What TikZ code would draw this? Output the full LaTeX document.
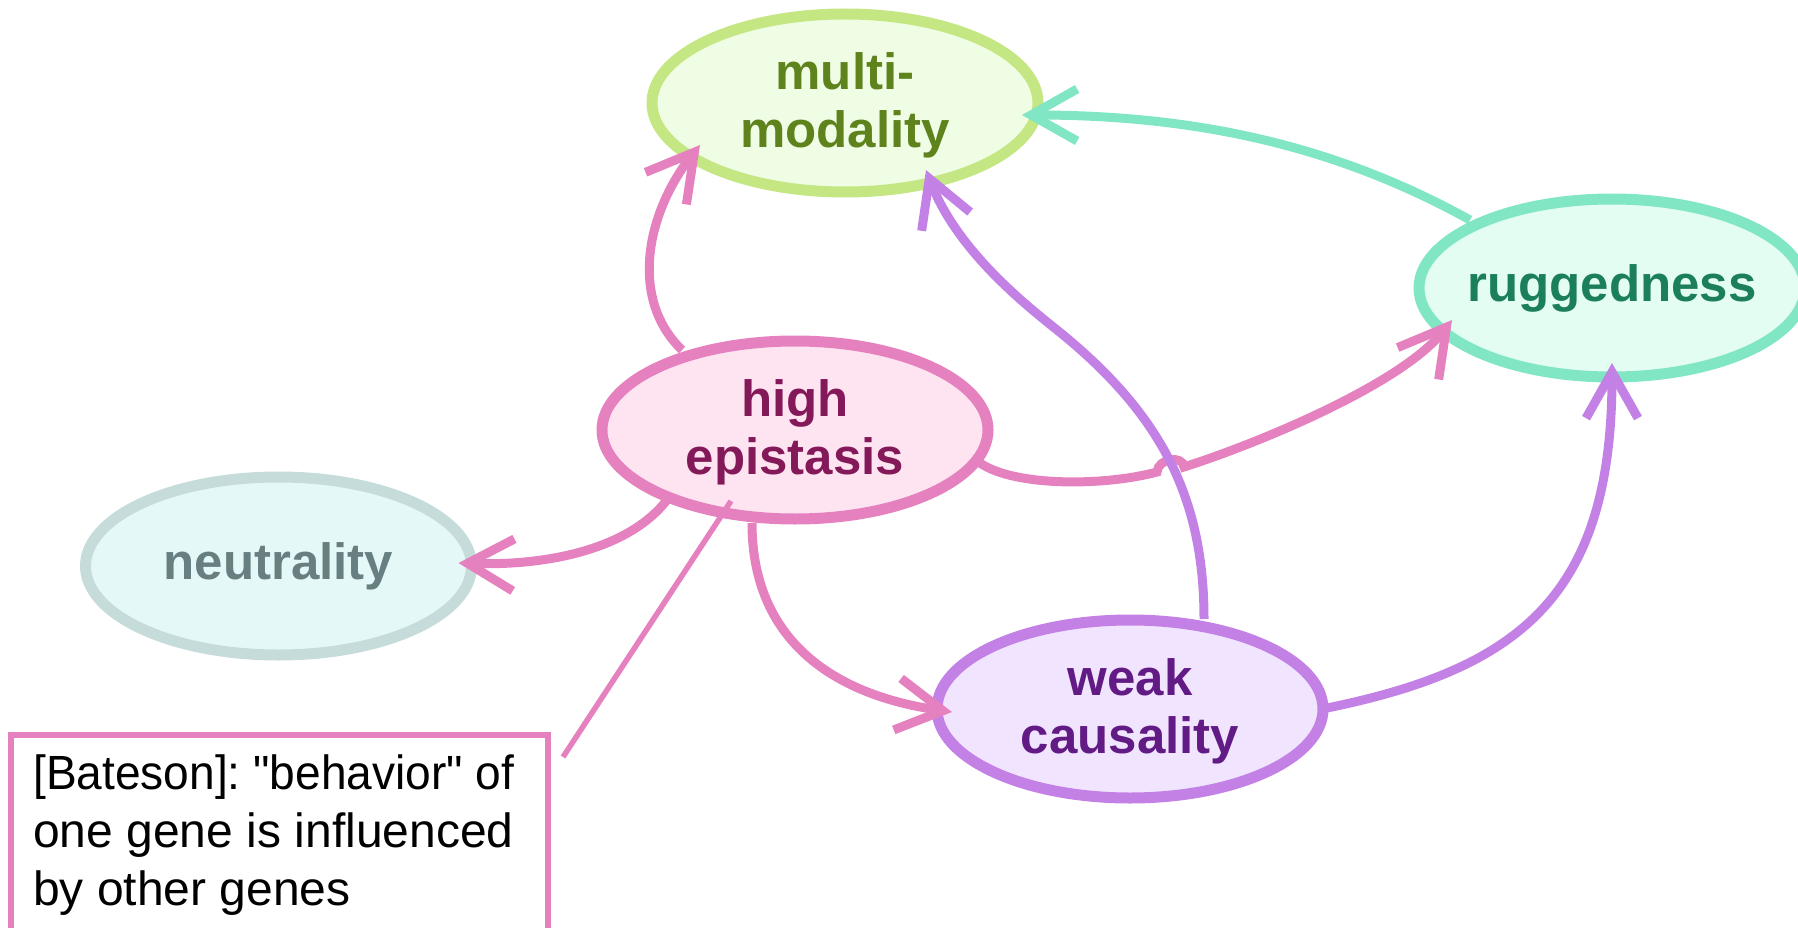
\documentclass[tikz,border=0pt]{standalone}
\usepackage{fontspec}
\setmainfont{Liberation Sans}
% plain family without TeX quote ligatures, so " stays a straight quote
\newfontfamily\plainsans{Liberation Sans}
\usetikzlibrary{arrows.meta,shapes.geometric,calc}

% node palettes: fill, outline, text
\definecolor{mmfill}{HTML}{F0FDE5}
\definecolor{mmline}{HTML}{C4E783}
\definecolor{mmtext}{HTML}{5E821C}
\definecolor{rufill}{HTML}{E4FDF2}
\definecolor{ruline}{HTML}{81E6C3}
\definecolor{rutext}{HTML}{1B7F5B}
\definecolor{hefill}{HTML}{FEE4F1}
\definecolor{heline}{HTML}{E681C0}
\definecolor{hetext}{HTML}{84195A}
\definecolor{nefill}{HTML}{E4F8F8}
\definecolor{neline}{HTML}{C6DCDB}
\definecolor{netext}{HTML}{677F80}
\definecolor{wcfill}{HTML}{F1E4FE}
\definecolor{wcline}{HTML}{C381E6}
\definecolor{wctext}{HTML}{621A84}

\begin{document}
\begin{tikzpicture}[x=1pt,y=-1pt,
  topic/.style={ellipse, draw=#1line, fill=#1fill, line width=11pt,
    minimum width=386pt, minimum height=178pt, inner sep=0pt, outer sep=0pt},
  topictext/.style={text=#1text, font=\fontsize{51}{58}\selectfont\bfseries,
    align=center, inner sep=0pt},
  link/.style={draw=#1, line width=9pt,
    -{Straight Barb[length=46pt,width=52pt]}},
  notebox/.style={draw=heline, line width=6pt, fill=white, inner sep=0pt,
    outer sep=0pt, minimum width=537pt, minimum height=220pt},
  notetext/.style={align=left, inner sep=0pt,
    font=\plainsans\frenchspacing\fontsize{48}{58}\selectfont},
  callout/.style={draw=heline, line width=5.5pt},
]
\useasboundingbox (0,0) rectangle (1798,928);
\clip (0,0) rectangle (1798,928);

% concept ellipses
\node[topic=mm] (mm) at (845,103) {};
\node[topic=ru] (ru) at (1612,288) {};
\node[topic=he] (he) at (795,430) {};
\node[topic=ne] (ne) at (278.5,566) {};
\node[topic=wc] (wc) at (1130,709) {};

\node[topictext=mm, yshift=-2pt] (mmt) at (mm) {multi-\\modality};
\node[topictext=ru] (rut) at (ru) {ruggedness};
\node[topictext=he, yshift=-2.5pt] (het) at (he) {high\\epistasis};
\node[topictext=ne] (net) at (ne) {neutrality};
\node[topictext=wc, yshift=-2.5pt] (wct) at (wc) {weak\\causality};

% high epistasis -> multi-modality
\draw[link=heline] ($(he)+(-113,-80)$) .. controls +(-52,-50) and +(-55,70) .. ($(mm)+(-145,42)$);
% high epistasis -> neutrality
\draw[link=heline] ($(he)+(-128,70)$) .. controls +(-39,50) and +(87,3) .. ($(ne)+(180,-3)$);
% high epistasis -> weak causality
\draw[link=heline] ($(he)+(-43,93)$) .. controls +(0,117) and +(-119,-17) .. ($(wc)+(-178,3)$);
% high epistasis -> ruggedness, hopping over the purple connector
\draw[link=heline] ($(he)+(185,33)$) .. controls +(35,24) and +(-52,14) .. (1157,472)
  .. controls +(1,-14) and +(-1,-12) .. (1184,467)
  .. controls +(78,-25) and +(-49,63) .. ($(ru)+(-160,32)$);
% weak causality -> multi-modality (S-shaped, inflection near the middle)
\draw[link=wcline] ($(wc)+(74,-90)$) .. controls +(0,-120) and +(100,82) .. (1062,334)
  .. controls +(-31,-25) and +(32.4,83.7) .. ($(mm)+(81,67)$);
% weak causality -> ruggedness
\draw[link=wcline] ($(wc)+(197,-1)$) .. controls +(196,-40) and +(0,230) .. ($(ru)+(0,75)$);
% ruggedness -> multi-modality
\draw[link=ruline] ($(ru)+(-142,-68)$) .. controls +(-130,-72) and +(180,0) .. ($(mm)+(177,12)$);

% annotation box and its pointer
\node[notebox, anchor=north west] (note) at (10.5,735) {};
\node[notetext, anchor=north west] (notetext) at (33,755)
  {\scalebox{0.96}[1]{[Bateson]: "behavior" of}\\one gene is influenced\\by other genes};
\coordinate (notetip) at (563,757);
\draw[callout] (notetip) -- ($(he)+(-64,71)$);
\end{tikzpicture}
\end{document}
